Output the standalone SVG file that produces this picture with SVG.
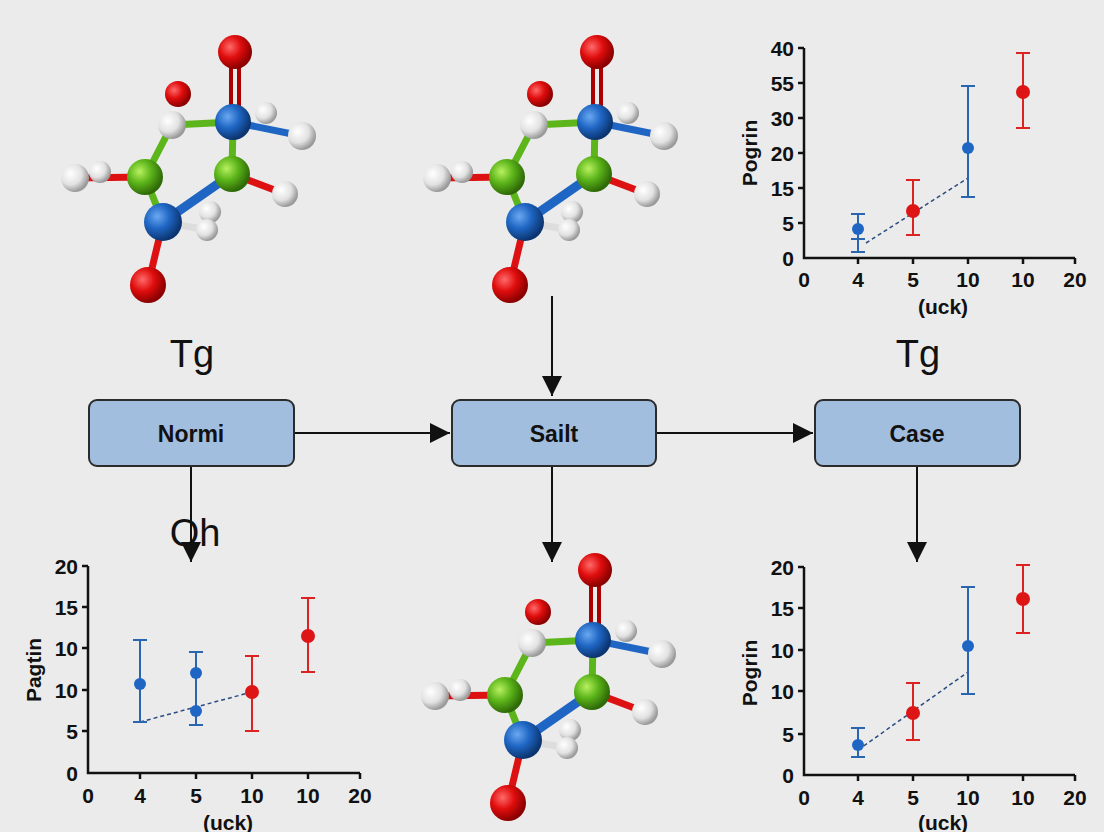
<svg xmlns="http://www.w3.org/2000/svg" width="1104" height="832" viewBox="0 0 1104 832">
<defs>
<radialGradient id="gR" cx="35%" cy="35%" r="65%"><stop offset="0" stop-color="#ff6a6a"/><stop offset="0.5" stop-color="#e00d0d"/><stop offset="1" stop-color="#8a0000"/></radialGradient>
<radialGradient id="gB" cx="35%" cy="35%" r="65%"><stop offset="0" stop-color="#6aa8f0"/><stop offset="0.5" stop-color="#1f66c4"/><stop offset="1" stop-color="#0c3570"/></radialGradient>
<radialGradient id="gG" cx="35%" cy="35%" r="65%"><stop offset="0" stop-color="#b8f060"/><stop offset="0.5" stop-color="#5cb51a"/><stop offset="1" stop-color="#2f6a08"/></radialGradient>
<radialGradient id="gW" cx="35%" cy="35%" r="65%"><stop offset="0" stop-color="#ffffff"/><stop offset="0.6" stop-color="#e2e2e2"/><stop offset="1" stop-color="#9a9a9a"/></radialGradient>
<marker id="ah" viewBox="0 0 10 10" refX="10" refY="5" markerWidth="20" markerHeight="20" markerUnits="userSpaceOnUse" orient="auto"><path d="M0,0 L10,5 L0,10 z" fill="#111"/></marker>
<g id="mol">
<g stroke-width="7" stroke-linecap="round">
<line x1="231" y1="55" x2="231" y2="120" stroke="#a00" stroke-width="4"/><line x1="239" y1="55" x2="239" y2="120" stroke="#a00" stroke-width="4"/>
<line x1="178" y1="94" x2="172" y2="125" stroke="#eee"/>
<line x1="172" y1="125" x2="233" y2="122" stroke="#5cb51a"/>
<line x1="172" y1="125" x2="145" y2="177" stroke="#5cb51a"/>
<line x1="75" y1="178" x2="145" y2="177" stroke="#d11"/>
<line x1="145" y1="177" x2="163" y2="222" stroke="#5cb51a"/>
<line x1="163" y1="222" x2="232" y2="174" stroke="#1f66c4" stroke-width="9"/>
<line x1="232" y1="174" x2="233" y2="122" stroke="#5cb51a"/>
<line x1="232" y1="174" x2="285" y2="194" stroke="#d11"/>
<line x1="233" y1="122" x2="302" y2="136" stroke="#1f66c4"/>
<line x1="163" y1="222" x2="148" y2="285" stroke="#d11"/>
<line x1="163" y1="222" x2="207" y2="230" stroke="#ddd"/>
</g>
<circle cx="266" cy="113" r="11" fill="url(#gW)"/>
<circle cx="100" cy="172" r="11" fill="url(#gW)"/>
<circle cx="210" cy="212" r="11" fill="url(#gW)"/>
<circle cx="207" cy="230" r="11" fill="url(#gW)"/>
<circle cx="235" cy="52" r="17" fill="url(#gR)"/>
<circle cx="178" cy="94" r="13" fill="url(#gR)"/>
<circle cx="172" cy="125" r="14" fill="url(#gW)"/>
<circle cx="233" cy="122" r="18" fill="url(#gB)"/>
<circle cx="302" cy="136" r="14" fill="url(#gW)"/>
<circle cx="75" cy="178" r="14" fill="url(#gW)"/>
<circle cx="145" cy="177" r="18" fill="url(#gG)"/>
<circle cx="232" cy="174" r="18" fill="url(#gG)"/>
<circle cx="285" cy="194" r="13" fill="url(#gW)"/>
<circle cx="163" cy="222" r="19" fill="url(#gB)"/>
<circle cx="148" cy="285" r="18" fill="url(#gR)"/>
</g>
</defs>
<style>
.box{fill:#a2bedf;stroke:#2b2b2b;stroke-width:2}
.bl{font-family:"Liberation Sans",Arial,sans-serif;font-weight:bold;font-size:23px;fill:#111;text-anchor:middle}
.big{font-family:"Liberation Sans",Arial,sans-serif;font-size:38px;fill:#111;text-anchor:middle}
.ax{stroke:#111;stroke-width:2.5;fill:none}
.tk{font-family:"Liberation Sans",Arial,sans-serif;font-weight:bold;font-size:21px;fill:#111}
.tx{text-anchor:middle}
.ty{text-anchor:end}
.eb{stroke:#2a66b0;stroke-width:2;fill:none}
.er{stroke:#d22;stroke-width:2;fill:none}
.dash{stroke:#2a4a80;stroke-width:1.5;stroke-dasharray:4 3;fill:none}
.con{stroke:#111;stroke-width:2;fill:none;marker-end:url(#ah)}
</style>
<rect width="1104" height="832" fill="#ebebeb"/>

<g id="molecule1"><use href="#mol"/></g>
<g id="molecule2"><use href="#mol" x="362"/></g>
<g id="molecule3"><use href="#mol" x="360" y="518"/></g>

<text class="big" x="192" y="367">Tg</text>
<text class="big" x="918" y="367">Tg</text>
<text class="big" x="195" y="546">Oh</text>

<g id="connectors">
<line class="con" x1="294" y1="433" x2="450" y2="433"/>
<line class="con" x1="656" y1="433" x2="813" y2="433"/>
<line class="con" x1="552" y1="296" x2="552" y2="396"/>
<line class="con" x1="552" y1="466" x2="552" y2="562"/>
<line class="con" x1="917" y1="466" x2="917" y2="562"/>
<line class="con" x1="191" y1="466" x2="191" y2="562"/>
</g>

<g id="normi"><rect class="box" x="89" y="400" width="205" height="66" rx="8"/><text class="bl" x="191" y="442">Normi</text></g>
<g id="sailt"><rect class="box" x="452" y="400" width="204" height="66" rx="8"/><text class="bl" x="554" y="442">Sailt</text></g>
<g id="case"><rect class="box" x="815" y="400" width="205" height="66" rx="8"/><text class="bl" x="917" y="442">Case</text></g>

<g id="chart-top">
<path class="ax" d="M804,48 V258 H1075 M804,48 h-6 M804,83 h-6 M804,118 h-6 M804,153 h-6 M804,188 h-6 M804,223 h-6 M858,258 v6 M913,258 v6 M968,258 v6 M1023,258 v6 M1075,258 v6"/>
<g class="tk ty"><text x="794" y="56">40</text><text x="794" y="91">55</text><text x="794" y="126">30</text><text x="794" y="161">20</text><text x="794" y="196">15</text><text x="794" y="231">5</text><text x="794" y="266">0</text></g>
<g class="tk tx"><text x="804" y="287">0</text><text x="858" y="287">4</text><text x="913" y="287">5</text><text x="968" y="287">10</text><text x="1023" y="287">10</text><text x="1075" y="287">20</text><text x="943" y="314">(uck)</text></g>
<text class="tk tx" transform="translate(757,153) rotate(-90)">Pogrin</text>
<path class="dash" d="M866,243 L968,178"/>
<path class="eb" d="M858,214 V252 M851,214 h14 M851,252 h14 M851,239 h14"/>
<path class="eb" d="M968,86 V197 M961,86 h14 M961,197 h14"/>
<path class="er" d="M913,180 V235 M906,180 h14 M906,235 h14"/>
<path class="er" d="M1023,53 V128 M1016,53 h14 M1016,128 h14"/>
<circle cx="858" cy="229" r="6" fill="#1f66c4"/><circle cx="968" cy="148" r="6" fill="#1f66c4"/>
<circle cx="913" cy="211" r="7" fill="#dd1515"/><circle cx="1023" cy="92" r="7" fill="#dd1515"/>
</g>

<g id="chart-left">
<path class="ax" d="M88,566 V773 H360 M88,566 h-6 M88,607 h-6 M88,648 h-6 M88,690 h-6 M88,731 h-6 M140,773 v6 M196,773 v6 M252,773 v6 M308,773 v6 M360,773 v6"/>
<g class="tk ty"><text x="78" y="574">20</text><text x="78" y="615">15</text><text x="78" y="656">10</text><text x="78" y="698">10</text><text x="78" y="739">5</text><text x="78" y="781">0</text></g>
<g class="tk tx"><text x="88" y="803">0</text><text x="140" y="803">4</text><text x="196" y="803">5</text><text x="252" y="803">10</text><text x="308" y="803">10</text><text x="360" y="803">20</text><text x="228" y="830">(uck)</text></g>
<text class="tk tx" transform="translate(41,670) rotate(-90)">Pagtin</text>
<path class="dash" d="M140,722 L252,692"/>
<path class="eb" d="M140,640 V722 M133,640 h14 M133,722 h14"/>
<path class="eb" d="M196,652 V725 M189,652 h14 M189,725 h14"/>
<path class="er" d="M252,656 V731 M245,656 h14 M245,731 h14"/>
<path class="er" d="M308,598 V672 M301,598 h14 M301,672 h14"/>
<circle cx="140" cy="684" r="6" fill="#1f66c4"/><circle cx="196" cy="673" r="6" fill="#1f66c4"/><circle cx="196" cy="711" r="6" fill="#1f66c4"/>
<circle cx="252" cy="692" r="7" fill="#dd1515"/><circle cx="308" cy="636" r="7" fill="#dd1515"/>
</g>

<g id="chart-right">
<path class="ax" d="M804,567 V775 H1075 M804,567 h-6 M804,608 h-6 M804,650 h-6 M804,691 h-6 M804,734 h-6 M858,775 v6 M913,775 v6 M968,775 v6 M1023,775 v6 M1075,775 v6"/>
<g class="tk ty"><text x="794" y="575">20</text><text x="794" y="616">15</text><text x="794" y="658">10</text><text x="794" y="699">10</text><text x="794" y="742">5</text><text x="794" y="783">0</text></g>
<g class="tk tx"><text x="804" y="805">0</text><text x="858" y="805">4</text><text x="913" y="805">5</text><text x="968" y="805">10</text><text x="1023" y="805">10</text><text x="1075" y="805">20</text><text x="943" y="830">(uck)</text></g>
<text class="tk tx" transform="translate(757,673) rotate(-90)">Pogrin</text>
<path class="dash" d="M858,750 L968,672"/>
<path class="eb" d="M858,728 V757 M851,728 h14 M851,757 h14"/>
<path class="eb" d="M968,587 V694 M961,587 h14 M961,694 h14"/>
<path class="er" d="M913,683 V740 M906,683 h14 M906,740 h14"/>
<path class="er" d="M1023,565 V633 M1016,565 h14 M1016,633 h14"/>
<circle cx="858" cy="745" r="6" fill="#1f66c4"/><circle cx="968" cy="646" r="6" fill="#1f66c4"/>
<circle cx="913" cy="713" r="7" fill="#dd1515"/><circle cx="1023" cy="599" r="7" fill="#dd1515"/>
</g>
</svg>
